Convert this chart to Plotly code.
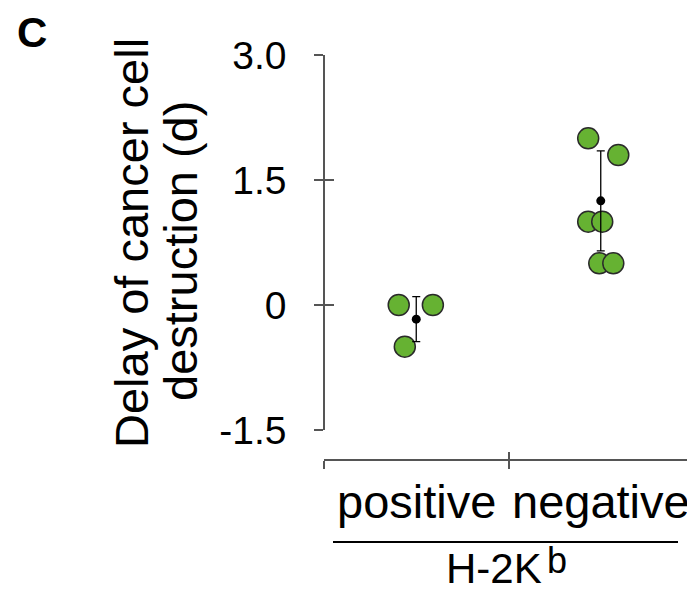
import plotly.graph_objects as go

# ---- data ----
categories = ["positive", "negative"]
positive_vals = [0.0, 0.0, -0.5]
positive_jitter = [-0.095, 0.09, -0.062]
negative_vals = [2.0, 1.8, 1.0, 1.0, 0.5, 0.5]
negative_jitter = [-0.068, 0.095, -0.068, 0.008, -0.008, 0.068]
group_means = [-0.17, 1.25]
group_err = [0.27, 0.6]
y_tickvals = [3.0, 1.5, 0, -1.5]
y_ticktext = ["3.0", "1.5", "0", "-1.5"]
group_title_main = "H-2K"
group_title_sup = "b"
y_title_lines = ["Delay of cancer cell", "destruction (d)"]
panel_letter = "C"

FONT = "Liberation Sans, Arial, sans-serif"
GREEN = "#66b232"
AXIS = "#555555"
OFF = 8  # page body margin offset

fig = go.Figure()

xs_pos = [0 + j for j in positive_jitter]
xs_neg = [1 + j for j in negative_jitter]
fig.add_trace(go.Scatter(
    x=xs_pos + xs_neg, y=positive_vals + negative_vals, mode="markers",
    marker=dict(size=21, color=GREEN, line=dict(color="#2a2a2a", width=1.5)),
    cliponaxis=False, hoverinfo="skip", showlegend=False))

fig.add_trace(go.Scatter(
    x=[0, 1], y=group_means, mode="markers",
    marker=dict(size=9, color="black"),
    error_y=dict(type="data", array=group_err, color="black", thickness=1.3, width=4),
    cliponaxis=False, hoverinfo="skip", showlegend=False))

fig.add_trace(go.Scatter(x=[None], y=[None], xaxis="x2", yaxis="y2",
                         hoverinfo="skip", showlegend=False))

L, R, T, B = 324 - OFF, 693 - OFF, 55 - OFF, 460 - OFF
W = float(R - L)
H = float(B - T)
ydom = [30 / H, 1]
fig.update_layout(
    width=695, height=596,
    margin=dict(l=L, r=695 - R, t=T, b=596 - B),
    paper_bgcolor="white", plot_bgcolor="white",
    font=dict(family=FONT, color="black"),
    xaxis=dict(range=[-0.5, 1.5], anchor="free", position=0,
               tickvals=[-0.5, 0.5, 1.5], showticklabels=False,
               ticks="outside", ticklen=8, tickwidth=1.5, tickcolor=AXIS,
               showline=True, linecolor=AXIS, linewidth=1.5,
               showgrid=False, zeroline=False),
    xaxis2=dict(range=[-0.5, 1.5], overlaying="x", anchor="free", position=0,
                tickvals=[-0.5, 0.5, 1.5], showticklabels=False,
                ticks="inside", ticklen=8, tickwidth=1.5, tickcolor=AXIS,
                showline=False, showgrid=False, zeroline=False),
    yaxis=dict(range=[-1.5, 3.0], domain=ydom, anchor="free", position=0,
               tickvals=y_tickvals, ticktext=y_ticktext,
               ticks="outside", ticklen=9, tickwidth=1.5, tickcolor=AXIS,
               ticklabelstandoff=20,
               tickfont=dict(size=39, family=FONT, color="black"),
               showline=True, linecolor=AXIS, linewidth=1.5,
               showgrid=False, zeroline=False),
    yaxis2=dict(range=[-1.5, 3.0], domain=ydom, overlaying="y", anchor="free",
                position=0, side="left",
                tickvals=y_tickvals, showticklabels=False,
                ticks="inside", ticklen=9, tickwidth=1.5, tickcolor=AXIS,
                showline=False, showgrid=False, zeroline=False),
)

def px_x(p):
    return (p - OFF - L) / W
def px_y(p):
    return (B - (p - OFF)) / H

annotations = []
for i, c in enumerate(categories):
    annotations.append(dict(x=i, xref="x", y=px_y(502), yref="paper", text=c,
                            showarrow=False, xanchor="center", yanchor="middle",
                            font=dict(size=47, family=FONT, color="black")))
annotations.append(dict(x=px_x(494), xref="paper", y=px_y(568), yref="paper",
                        text=group_title_main, showarrow=False, xanchor="center",
                        yanchor="middle", font=dict(size=42, family=FONT, color="black")))
annotations.append(dict(x=px_x(557), xref="paper", y=px_y(560), yref="paper",
                        text=group_title_sup, showarrow=False, xanchor="center",
                        yanchor="middle", font=dict(size=36, family=FONT, color="black")))
annotations.append(dict(x=px_x(131), xref="paper", y=px_y(243), yref="paper",
                        text=y_title_lines[0], textangle=-90, showarrow=False,
                        xanchor="center", yanchor="middle",
                        font=dict(size=47, family=FONT, color="black")))
annotations.append(dict(x=px_x(180), xref="paper", y=px_y(251), yref="paper",
                        text=y_title_lines[1], textangle=-90, showarrow=False,
                        xanchor="center", yanchor="middle",
                        font=dict(size=47, family=FONT, color="black")))
annotations.append(dict(x=px_x(32), xref="paper", y=px_y(32), yref="paper",
                        text="<b>" + panel_letter + "</b>", showarrow=False,
                        xanchor="center", yanchor="middle",
                        font=dict(size=42, family=FONT, color="black")))
fig.update_layout(annotations=annotations)

fig.add_shape(type="line", xref="paper", yref="paper",
              x0=px_x(333), x1=px_x(678), y0=px_y(542), y1=px_y(542),
              line=dict(color="black", width=2))

fig.write_html("out.html")
